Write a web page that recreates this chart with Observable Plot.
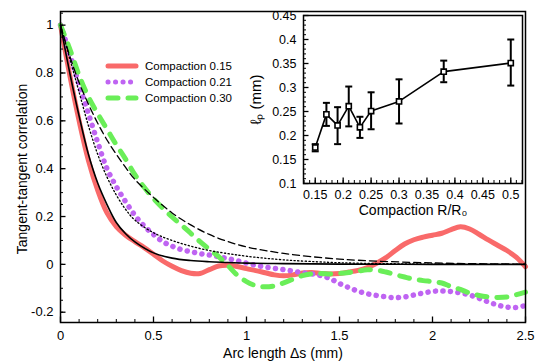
<!DOCTYPE html>
<html><head><meta charset="utf-8">
<script src="https://cdn.jsdelivr.net/npm/d3@7"></script>
<script src="https://cdn.jsdelivr.net/npm/@observablehq/plot@0.6"></script>
<style>
body{margin:0;background:#fff;}
#wrap{position:relative;width:541px;height:362px;font-family:"Liberation Sans",Arial,Helvetica,sans-serif;}
#wrap svg{position:absolute;left:0;top:0;overflow:visible;}
</style></head><body><div id="wrap"></div>
<script>
// ---- main chart data ----
const arcS = [0,0.05,0.1,0.15,0.2,0.25,0.3,0.35,0.4,0.45,0.5,0.55,0.6,0.65,0.7,0.75,0.8,0.85,0.9,0.95,1.0,1.05,1.1,1.15,1.2,1.25,1.3,1.35,1.4,1.45,1.5,1.55,1.6,1.65,1.7,1.75,1.8,1.85,1.9,1.95,2.0,2.05,2.1,2.15,2.2,2.25,2.3,2.35,2.4,2.45,2.5];
const corr015 = [1,0.79,0.6,0.435,0.31,0.215,0.158,0.122,0.095,0.07,0.042,0.014,-0.008,-0.026,-0.037,-0.038,-0.022,-0.007,-0.004,-0.009,-0.018,-0.026,-0.035,-0.044,-0.048,-0.044,-0.036,-0.034,-0.038,-0.04,-0.038,-0.032,-0.025,-0.013,0.005,0.028,0.058,0.085,0.103,0.114,0.122,0.13,0.145,0.157,0.148,0.126,0.102,0.08,0.058,0.03,-0.01];
const corr021 = [1,0.88,0.75,0.63,0.51,0.4,0.325,0.262,0.205,0.16,0.125,0.095,0.076,0.062,0.053,0.045,0.039,0.032,0.024,0.015,0.005,-0.004,-0.011,-0.017,-0.022,-0.028,-0.035,-0.04,-0.047,-0.06,-0.08,-0.097,-0.112,-0.123,-0.13,-0.136,-0.139,-0.136,-0.128,-0.12,-0.113,-0.111,-0.114,-0.119,-0.128,-0.142,-0.157,-0.17,-0.179,-0.18,-0.172];
const corr030 = [1,0.9,0.79,0.7,0.63,0.565,0.5,0.44,0.375,0.322,0.275,0.235,0.198,0.165,0.13,0.095,0.063,0.032,-0.005,-0.045,-0.072,-0.089,-0.094,-0.09,-0.077,-0.062,-0.047,-0.04,-0.038,-0.04,-0.038,-0.034,-0.028,-0.023,-0.024,-0.032,-0.043,-0.053,-0.062,-0.068,-0.072,-0.078,-0.093,-0.105,-0.12,-0.13,-0.136,-0.138,-0.136,-0.127,-0.116];
// fitted curves (black)
const fitS = [0,0.05,0.1,0.15,0.2,0.25,0.3,0.35,0.4,0.5,0.6,0.7,0.8,0.9,1.0,1.2,1.5,2.0,2.5];
const fit015 = [1,0.8,0.62,0.46,0.34,0.25,0.175,0.128,0.094,0.048,0.026,0.016,0.011,0.008,0.005,0.003,0.001,0,0];
const fit021 = [1,0.86,0.72,0.58,0.46,0.365,0.29,0.23,0.185,0.132,0.1,0.076,0.058,0.045,0.034,0.019,0.007,0.001,0];
const fit030 = [1,0.87,0.76,0.67,0.59,0.52,0.46,0.405,0.355,0.28,0.215,0.165,0.125,0.095,0.073,0.046,0.022,0.006,0.001];
const seriesNames = ["Compaction 0.15","Compaction 0.21","Compaction 0.30"];
const xTicks = [0,0.5,1,1.5,2,2.5];
const xTickLabels = ["0","0.5","1","1.5","2","2.5"];
const yTicks = [-0.2,0,0.2,0.4,0.6,0.8,1];
const yTickLabels = ["-0.2","0","0.2","0.4","0.6","0.8","1"];
const xTitle = "Arc length Δs (mm)";
const yTitle = "Tangent-tangent correlation";

// ---- inset data ----
const compaction = [0.15,0.17,0.19,0.21,0.23,0.25,0.30,0.38,0.50];
const lp = [0.175,0.244,0.221,0.261,0.217,0.251,0.271,0.333,0.351];
const lpLow = [0.167,0.22,0.182,0.219,0.195,0.213,0.225,0.311,0.304];
const lpHigh = [0.182,0.268,0.259,0.302,0.239,0.29,0.317,0.356,0.4];
const inXTicks = [0.15,0.2,0.25,0.3,0.35,0.4,0.45,0.5];
const inXTickLabels = ["0.15","0.2","0.25","0.3","0.35","0.4","0.45","0.5"];
const inYTicks = [0.1,0.15,0.2,0.25,0.3,0.35,0.4,0.45];
const inYTickLabels = ["0.1","0.15","0.2","0.25","0.3","0.35","0.4","0.45"];
const inXTitle = "Compaction R/R₀";
const inYTitle = "ℓₚ (mm)";

const RED = "#f96a6a", PURPLE = "#bf64f2", GREEN = "#6aee58";
const FONT = '"Liberation Sans",Arial,Helvetica,sans-serif';

const toRows = (xs, ys) => xs.map((x, i) => ({x, y: ys[i]}));
const r015 = toRows(arcS, corr015), r021 = toRows(arcS, corr021), r030 = toRows(arcS, corr030);
const f015 = toRows(fitS, fit015), f021 = toRows(fitS, fit021), f030 = toRows(fitS, fit030);

const xMinor = d3.range(0, 2.5001, 0.1).map(v => +v.toFixed(2));
const yMinor = d3.range(-0.2, 1.0501, 0.05).map(v => +v.toFixed(2));

const titleOpts = {fontSize: 14, fill: "black", textAnchor: "middle", lineAnchor: "middle"};

const main = Plot.plot({
  width: 541, height: 362,
  marginLeft: 60, marginRight: 16, marginTop: 11, marginBottom: 40,
  x: {domain: [0, 2.5]},
  y: {domain: [-0.243, 1.057]},
  style: {fontFamily: FONT, fontSize: "13px", background: "transparent", color: "black"},
  marks: [
    Plot.line(r015, {x: "x", y: "y", stroke: RED, strokeWidth: 5, curve: "catmull-rom"}),
    Plot.line(r021, {x: "x", y: "y", stroke: PURPLE, strokeWidth: 5.5, strokeDasharray: "0.1 7.4", strokeLinecap: "round", curve: "catmull-rom"}),
    Plot.line(r030, {x: "x", y: "y", stroke: GREEN, strokeWidth: 5, strokeDasharray: "10 10", strokeLinecap: "round", curve: "catmull-rom"}),
    Plot.line(f015, {x: "x", y: "y", stroke: "black", strokeWidth: 1.6, curve: "catmull-rom"}),
    Plot.line(f021, {x: "x", y: "y", stroke: "black", strokeWidth: 1.3, strokeDasharray: "1.3 2.4", curve: "catmull-rom"}),
    Plot.line(f030, {x: "x", y: "y", stroke: "black", strokeWidth: 1.3, strokeDasharray: "7 4", curve: "catmull-rom"}),
    Plot.frame({stroke: "black", strokeWidth: 1.5}),
    Plot.axisX(xMinor, {tickSize: -3, text: null, label: null}),
    Plot.axisX(xTicks, {tickSize: -5.5, text: null, label: null, strokeWidth: 1.3}),
    Plot.axisX(xTicks, {tickSize: 0, tickPadding: 8, tickFormat: (d, i) => xTickLabels[i], fontSize: 13, label: null}),
    Plot.axisY(yMinor, {tickSize: -3, text: null, label: null}),
    Plot.axisY(yTicks, {tickSize: -5.5, text: null, label: null, strokeWidth: 1.3}),
    Plot.axisY(yTicks, {tickSize: 0, tickPadding: 7, tickFormat: (d, i) => yTickLabels[i], fontSize: 13, label: null}),
    Plot.text([xTitle], {frameAnchor: "bottom", dx: -10, dy: 31, ...titleOpts}),
    Plot.text([yTitle], {frameAnchor: "left", rotate: -90, dx: -38, dy: 2, ...titleOpts})
  ]
});

// ---- inset ----
const inset = compaction.map((c, i) => ({c, lp: lp[i], lo: lpLow[i], hi: lpHigh[i]}));
const capSymbol = {draw(ctx, size) { const w = Math.sqrt(size / Math.PI); ctx.moveTo(-w, 0); ctx.lineTo(w, 0); }};
const inXMinor = d3.range(0.13, 0.5201, 0.01).map(v => +v.toFixed(2));
const inYMinor = d3.range(0.1, 0.4501, 0.01).map(v => +v.toFixed(2));

const ins = Plot.plot({
  width: 541, height: 362,
  marginLeft: 303, marginRight: 19, marginTop: 15, marginBottom: 179,
  x: {domain: [0.129, 0.521]},
  y: {domain: [0.1, 0.45]},
  style: {fontFamily: FONT, fontSize: "12.5px", background: "transparent", color: "black"},
  marks: [
    Plot.frame({fill: "white", stroke: "none"}),
    Plot.line(inset, {x: "c", y: "lp", stroke: "black", strokeWidth: 1.6}),
    Plot.ruleX(inset, {x: "c", y1: "lo", y2: "hi", stroke: "black", strokeWidth: 2}),
    Plot.dot(inset, {x: "c", y: "hi", symbol: capSymbol, r: 3.5, stroke: "black", strokeWidth: 2}),
    Plot.dot(inset, {x: "c", y: "lo", symbol: capSymbol, r: 3.5, stroke: "black", strokeWidth: 2}),
    Plot.dot(inset, {x: "c", y: "lp", symbol: "square", r: 2.9, fill: "white", stroke: "black", strokeWidth: 1.6}),
    Plot.frame({stroke: "black", strokeWidth: 1.5}),
    Plot.axisX(inXMinor, {tickSize: -3, text: null, label: null}),
    Plot.axisX(inXTicks, {tickSize: -5.5, text: null, label: null, strokeWidth: 1.3}),
    Plot.axisX(inXTicks, {tickSize: 0, tickPadding: 7, tickFormat: (d, i) => inXTickLabels[i], fontSize: 12.5, label: null}),
    Plot.axisY(inYMinor, {tickSize: -3, text: null, label: null}),
    Plot.axisY(inYTicks, {tickSize: -5.5, text: null, label: null, strokeWidth: 1.3}),
    Plot.axisY(inYTicks, {tickSize: 0, tickPadding: 7, tickFormat: (d, i) => inYTickLabels[i], fontSize: 12.5, label: null}),
    Plot.text([inXTitle], {frameAnchor: "bottom", dy: 27, ...titleOpts}),
    Plot.text([inYTitle], {frameAnchor: "left", rotate: -90, dx: -47, ...titleOpts, fontSize: 15})
  ]
});

const wrap = document.getElementById("wrap");
wrap.appendChild(main);
wrap.appendChild(ins);

// ---- legend ----
const leg = d3.select(wrap).append("svg").attr("width", 541).attr("height", 362);
const legStyles = [
  {stroke: RED, dash: null},
  {stroke: PURPLE, dash: "0.1 7.4"},
  {stroke: GREEN, dash: "10 10"}
];
seriesNames.forEach((name, i) => {
  const y = 66 + i * 16;
  leg.append("line").attr("x1", 108).attr("x2", 136).attr("y1", y).attr("y2", y)
    .attr("stroke", legStyles[i].stroke).attr("stroke-width", 5).attr("stroke-linecap", "round")
    .attr("stroke-dasharray", legStyles[i].dash);
  leg.append("text").attr("x", 145).attr("y", y).attr("dy", "0.35em")
    .attr("font-family", FONT).attr("font-size", 11.5).attr("fill", "black").text(name);
});
</script></body></html>
